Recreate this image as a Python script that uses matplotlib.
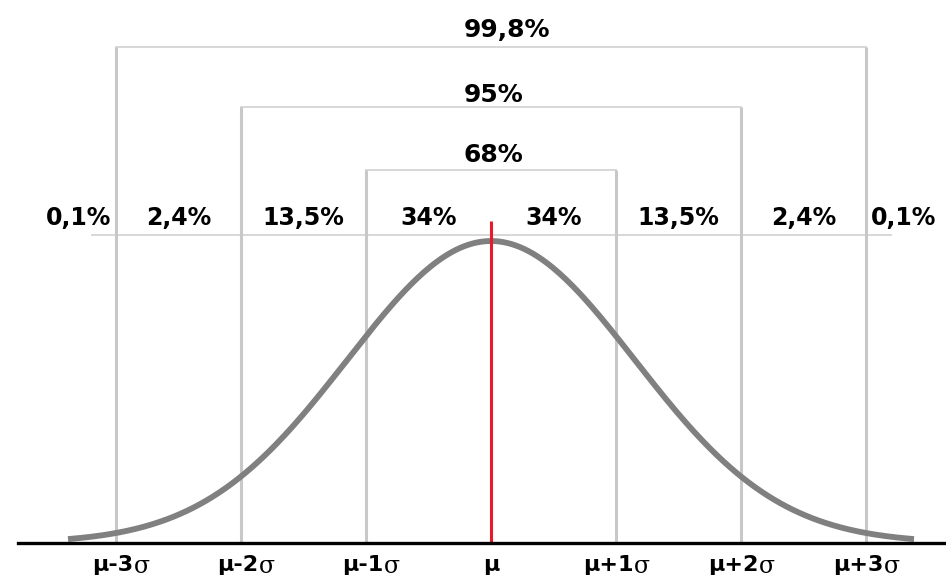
import numpy as np
import matplotlib.pyplot as plt

# sigma positions and labels
sigmas = [-3, -2, -1, 1, 2, 3]
bottom_nums = ['μ-3', 'μ-2', 'μ-1', 'μ+1', 'μ+2', 'μ+3']

# share in each band, placed at band centers
band_x = [-3.3, -2.5, -1.5, -0.5, 0.5, 1.5, 2.5, 3.3]
band_labels = ['0,1%', '2,4%', '13,5%', '34%', '34%', '13,5%', '2,4%', '0,1%']

# brackets: half-width in sigma, label
bracket_k = [3, 2, 1]
bracket_labels = ['99,8%', '95%', '68%']
bracket_y = [1.642, 1.444, 1.235]
bracket_text_y = [1.70, 1.485, 1.285]

# bell curve (width of the drawn curve, in sigma units)
curve_scale = 1.15
xs = np.linspace(-3.384, 3.384, 400)
ys = np.exp(-xs**2 / (2 * curve_scale**2))

fig = plt.figure(figsize=(9.46, 5.79), dpi=100)
ax = fig.add_axes([0, 0, 1, 1])
ax.set_xlim(-3.928, 3.64)
ax.set_ylim(-0.119, 1.798)
ax.axis('off')

light = '#c8c8c8'
thin = '#d4d4d4'

# row line under band labels
ax.plot([-3.19, 3.2], [1.020, 1.020], color=thin, lw=1.3, zorder=1)

# brackets
for k, lab, yb, yt in zip(bracket_k, bracket_labels, bracket_y, bracket_text_y):
    ax.plot([-k, k], [yb, yb], color=thin, lw=1.3, zorder=1)
    for s in (-k, k):
        ax.plot([s, s], [0, yb], color=light, lw=2.2, zorder=1, solid_capstyle='butt')
    ax.text(-0.22, yt, lab, ha='left', va='center', fontsize=18,
            fontweight='bold', family='DejaVu Sans')

# band labels
for x, lab in zip(band_x, band_labels):
    ax.text(x, 1.076, lab, ha='center', va='center', fontsize=17,
            fontweight='bold', family='DejaVu Sans')

# curve
ax.plot(xs, ys, color='#808080', lw=4.2, zorder=3, solid_capstyle='butt')

# mean line
ax.plot([0, 0], [0, 1.066], color='#e8192c', lw=2.2, zorder=4, solid_capstyle='butt')

# axis line
ax.plot([-3.784, 3.64], [0, 0], color='black', lw=2.4, zorder=5)

# bottom labels
for s, lab in zip(sigmas, bottom_nums):
    ax.text(s + 0.14, -0.073, lab, ha='right', va='center', fontsize=16,
            fontweight='bold', family='DejaVu Sans')
    ax.text(s + 0.14, -0.078, 'σ', ha='left', va='center', fontsize=17,
            family='DejaVu Serif')
ax.text(0, -0.073, 'μ', ha='center', va='center', fontsize=16,
        fontweight='bold', family='DejaVu Sans')

fig.savefig('out.png', dpi=100, facecolor='white')
